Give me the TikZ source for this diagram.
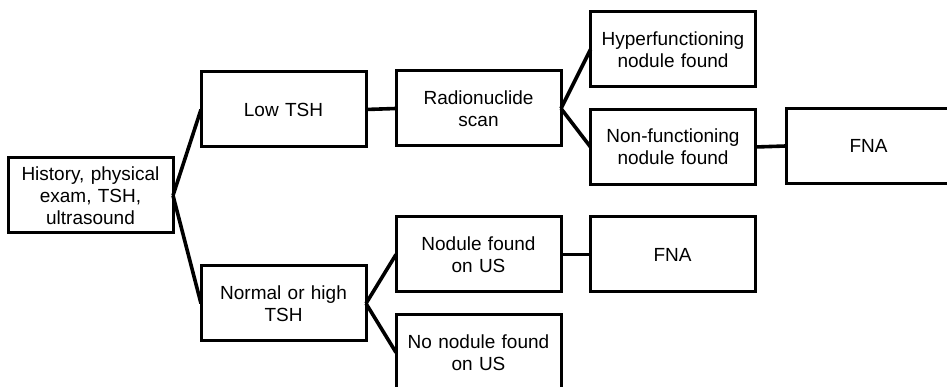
\documentclass[tikz,border=0pt]{standalone}
\usepackage{fontspec}
\setmainfont{Liberation Sans}
\begin{document}
\begin{tikzpicture}[x=1pt,y=1pt,
  box/.style={draw=black, line width=3pt, fill=white, minimum width=165pt, minimum height=75pt,
    inner sep=0pt, outer sep=0pt, text width=160pt, align=center, font=\fontsize{19}{22}\selectfont},
  conn/.style={line width=3.6pt, black}]
\useasboundingbox (0,0) rectangle (947,387);
\clip (0,0) rectangle (947,387);
\fill[white] (0,0) rectangle (947,387);
\node[box] (hist) at (90.5,191.5) {History, physical\\exam, TSH,\\ultrasound};
\node[box] (low) at (283.5,277.5) {Low TSH};
\node[box] (radio) at (478.5,278.5) {Radionuclide\\scan};
\node[box] (hyper) at (673,337.5) {Hyperfunctioning\\nodule found};
\node[box] (nonf) at (673,240) {Non-functioning\\nodule found};
\node[box] (fnaa) at (868.5,241) {FNA};
\node[box] (normal) at (283.5,83.5) {Normal or high\\TSH};
\node[box] (nod) at (478.5,132.5) {Nodule found\\on US};
\node[box] (fnab) at (672.5,132.5) {FNA};
\node[box] (nonod) at (478.5,34.5) {No nodule found\\on US};
\draw[conn] (hist.east) -- (low.west);
\draw[conn] (hist.east) -- (normal.west);
\draw[conn] (low.east) -- (radio.west);
\draw[conn] (radio.east) -- (hyper.west);
\draw[conn] (radio.east) -- (nonf.west);
\draw[conn] (nonf.east) -- (fnaa.west);
\draw[conn] (normal.east) -- (nod.west);
\draw[conn] (normal.east) -- (nonod.west);
\draw[conn] (nod.east) -- (fnab.west);
\end{tikzpicture}
\end{document}
